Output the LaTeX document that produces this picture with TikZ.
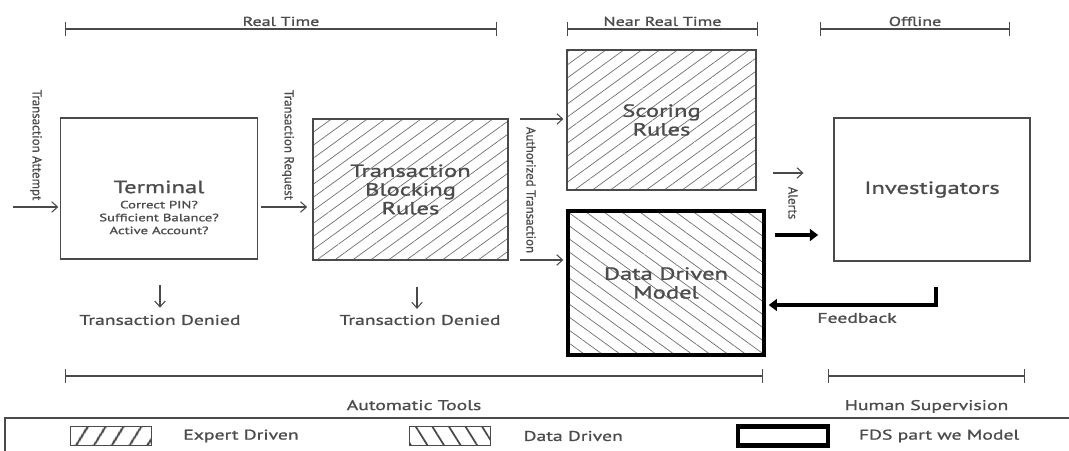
\documentclass[tikz,border=0pt]{standalone}
\usepackage{fontspec}
\setmainfont[FakeStretch=1.4,FakeBold=1.2]{PT Sans}
\newfontfamily\sidefont[FakeBold=0.8]{PT Sans}
\usetikzlibrary{arrows.meta,patterns.meta,positioning}
\definecolor{linegray}{HTML}{4A4A4A}
\definecolor{textgray}{HTML}{4C4C4C}
\definecolor{hatchgray}{HTML}{6E6E6E}

\begin{document}
\begin{tikzpicture}[
            x=0.03cm, y=-0.03cm,
            Box/.style={draw=linegray, line width=1pt, minimum width=5.9cm, minimum height=4.23cm, inner sep=0pt, outer sep=0pt},
            ExpertBox/.style={Box, pattern={Lines[angle=36,distance=9pt,line width=0.6pt]}, pattern color=hatchgray},
            DataBox/.style={Box, pattern={Lines[angle=-36,distance=9pt,line width=0.6pt]}, pattern color=hatchgray},
            ModelBox/.style={DataBox, draw=black, line width=4pt},
            BigText/.style={text=textgray, font=\fontsize{15}{16}\selectfont, align=center},
            TinyText/.style={text=textgray, font=\fontsize{9}{11}\selectfont, align=center, inner sep=0pt},
            SmallText/.style={text=textgray, font=\fontsize{11}{12}\selectfont, inner sep=1pt},
            MidText/.style={text=textgray, font=\fontsize{12}{13}\selectfont, inner sep=1pt},
            SideText/.style={text=textgray, rotate=-90, font=\sidefont\fontsize{11}{12}\selectfont, inner sep=0pt},
            Arr/.style={draw=linegray, line width=0.9pt, -{Straight Barb[length=5pt,width=9pt]}},
            BoldArr/.style={draw=black, line width=3pt, -{Triangle[length=7pt,width=10pt]}},
            Span/.style={draw=linegray, line width=1pt, {Bar[width=12pt]}-{Bar[width=12pt]}},
            LegendBox/.style={draw=linegray, line width=1pt, minimum width=2.45cm, minimum height=0.57cm, inner sep=0pt},
            ]
            \useasboundingbox (0,0) rectangle (1069,451);
            \clip (0,0) rectangle (1069,451);

            % time spans
            \draw[Span] (65,29) -- node[SmallText, above=1pt] {Real Time} (497,29);
            \draw[Span] (567,29) -- node[SmallText, above=1pt] {Near Real Time} (758,29);
            \draw[Span] (820,29) -- node[SmallText, above=1pt] {Offline} (1010,29);

            % main blocks
            \node[Box] (term) at (159,188.5) {};
            \node[ExpertBox, minimum width=5.85cm] (tbr) at (410.5,189.5) {};
            \node[ExpertBox, minimum width=5.67cm, minimum height=4.2cm] (scr) at (661.5,120) {};
            \node[ModelBox, minimum width=5.88cm, minimum height=4.32cm] (ddm) at (666,283) {};
            \node[Box, minimum width=5.88cm, minimum height=4.29cm] (inv) at (932,189.5) {};

            \node[BigText, inner sep=0pt] (termtxt) at (159,187) {Terminal};
            \node[TinyText, below=6pt of termtxt] (termchk) {Correct PIN?\\ Sufficient Balance?\\ Active Account?};
            \node[BigText] at (tbr) {Transaction\\ Blocking\\ Rules};
            \node[BigText] at (scr) {Scoring\\ Rules};
            \node[BigText] at (ddm) {Data Driven\\ Model};
            \node[BigText] at (inv) {Investigators};

            % inputs
            \coordinate (att) at (13,207);
            \draw[Arr, shorten >=2pt] (att) -- (att -| term.west);
            \node[SideText] at (36,145) {Transaction Attempt};

            \coordinate (req) at (0,207);
            \draw[Arr, shorten <=3pt, shorten >=5pt] (term.east |- req) -- (tbr.west |- req);
            \node[SideText] at (288,145) {Transaction Request};

            \coordinate (au1) at (0,119);
            \coordinate (au2) at (0,260);
            \draw[Arr, shorten <=10pt, shorten >=3pt] (tbr.east |- au1) -- (scr.west |- au1);
            \draw[Arr, shorten <=10pt, shorten >=4pt] (tbr.east |- au2) -- (ddm.west |- au2);
            \node[SideText] at (531,190) {Authorized Transaction};

            % alerts and feedback
            \coordinate (al1) at (0,173);
            \coordinate (al2) at (0,235);
            \draw[Arr, shorten <=14.5pt, shorten >=26pt] (scr.east |- al1) -- (inv.west |- al1);
            \draw[BoldArr, shorten <=9pt, shorten >=13.5pt] (ddm.east |- al2) -- (inv.west |- al2);
            \node[SideText] at (793,203) {Alerts};

            \coordinate (fbtop) at (936,287);
            \coordinate (fbturn) at (936,305);
            \draw[BoldArr, shorten >=4pt] (fbtop) -- (fbturn) -- (fbturn -| ddm.east);
            \node[MidText] (fbl) at (857,318) {Feedback};

            % denied
            \node[MidText] (den1) at (160,320) {Transaction Denied};
            \node[MidText] (den2) at (420,320) {Transaction Denied};
            \coordinate (d1) at (160,285);
            \coordinate (d2) at (417,287);
            \draw[Arr, shorten >=5pt] (d1) -- (d1 |- den1.north);
            \draw[Arr, shorten >=4pt] (d2) -- (d2 |- den2.north);

            % supervision spans
            \draw[Span] (65,376) -- node[MidText, below=19pt] {Automatic Tools} (763,376);
            \draw[Span] (828,376) -- node[MidText, below=19pt] {Human Supervision} (1025,376);

            % legend
            \draw[draw=linegray, line width=1pt] (5,418) rectangle (1090,470);
            \node[LegendBox, pattern={Lines[angle=58,distance=13pt,line width=2pt]}, pattern color=linegray] (lexp) at (111,436) {};
            \node[LegendBox, pattern={Lines[angle=-58,distance=12pt,line width=1.5pt]}, pattern color=linegray] (ldat) at (450,436) {};
            \node[LegendBox, draw=black, line width=4pt, minimum width=2.7cm] (lfds) at (783,436) {};
            \node[MidText, right=0.9cm of lexp, inner sep=0pt] {Expert Driven};
            \node[MidText, right=0.95cm of ldat, inner sep=0pt] {Data Driven};
            \node[MidText, right=0.85cm of lfds, inner sep=0pt] {FDS part we Model};

        \end{tikzpicture}
\end{document}
